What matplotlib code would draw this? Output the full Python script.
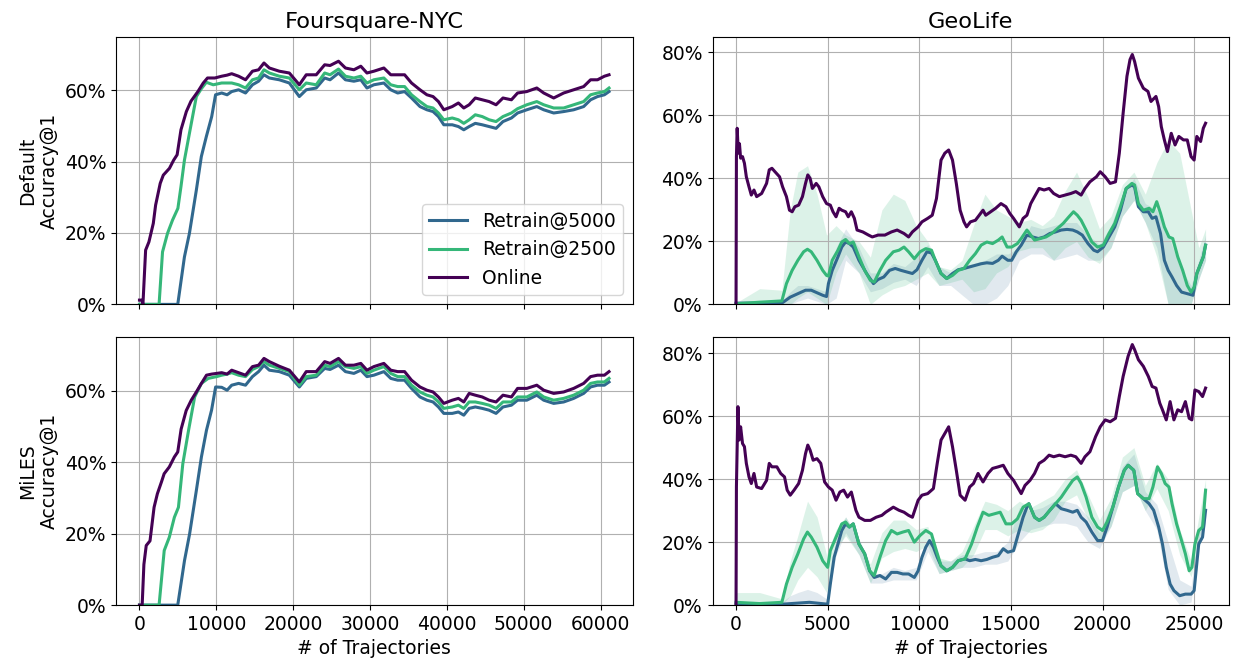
import numpy as np
import matplotlib
matplotlib.use("Agg")
import matplotlib.pyplot as plt
from matplotlib.ticker import PercentFormatter

plt.rcParams['font.size'] = 13.5

# colours picked from viridis
c_online = '#440154'
c_r5000 = '#31688e'
c_r2500 = '#35b779'

# ---------------- Foursquare-NYC ----------------
# shared x grid for the plateau part (after the warm-up rise)
nyc_grid = [10700, 11400, 12000, 12900, 13800, 14700, 15500, 16200, 16900, 18200,
            19500, 20800, 21700, 23000, 24100, 24800, 25900, 26800, 27900, 28800,
            29600, 30500, 31800, 32700, 33600, 34500, 35400, 36500, 37400, 38200,
            38900, 39600, 40700, 41500, 42200, 42900, 43700, 44600, 45500, 46400,
            47300, 48400, 49200, 50400, 51700, 52600, 53900, 55200, 56500, 57800,
            58700, 59600, 60500, 61100]

# Default
nyc_def_online_rise = [(0, 1.2), (300, 1.2), (450, 0), (800, 15.2), (1230, 17.5), (1800, 22.7),
                       (2100, 27.8), (2700, 33.9), (3100, 36.2), (3900, 38.1), (4450, 40.4),
                       (4900, 41.9), (5400, 48.9), (6100, 54.0), (6700, 56.9), (7600, 59.6),
                       (8300, 62.0), (8850, 63.4), (9800, 63.4)]
nyc_def_online = [63.9, 64.2, 64.6, 63.9, 62.9, 65.3, 65.7, 67.6, 66.2, 65.3,
                  64.8, 61.5, 64.3, 64.3, 67.1, 66.9, 68.1, 66.2, 65.7, 66.7,
                  64.8, 65.3, 66.2, 64.3, 64.3, 64.3, 62.0, 60.1, 58.7, 58.2,
                  56.8, 54.5, 55.4, 56.4, 55.0, 55.9, 57.8, 57.3, 56.8, 55.9,
                  57.8, 57.3, 59.2, 59.6, 60.6, 59.2, 57.8, 59.2, 60.1, 61.0,
                  62.9, 62.9, 63.9, 64.3]
nyc_def_r2500_rise = [(0, 0), (2550, 0), (3000, 14.7), (3650, 19.9), (4300, 23.6), (5000, 26.9),
                      (5400, 33.0), (5850, 40.4), (6500, 47.9), (7400, 58.2), (8050, 60.4),
                      (8700, 62.2), (9600, 61.5)]
nyc_def_r2500 = [62.0, 62.0, 62.0, 61.5, 60.6, 62.9, 63.4, 65.7, 64.8, 63.9,
                 63.4, 60.1, 62.0, 61.5, 64.8, 64.3, 65.9, 63.9, 63.4, 63.9,
                 62.0, 62.9, 63.4, 61.5, 61.0, 61.0, 58.7, 56.8, 55.4, 55.0,
                 53.6, 51.7, 52.2, 51.7, 50.7, 51.7, 53.1, 52.6, 51.7, 51.2,
                 52.6, 53.6, 54.8, 55.9, 56.8, 55.9, 55.0, 55.0, 55.9, 56.8,
                 58.7, 59.2, 59.6, 60.6]
nyc_def_r5000_rise = [(0, 0), (4980, 0), (5850, 13.3), (6500, 19.9), (7400, 32.0), (8050, 41.4),
                      (8700, 47.0), (9400, 52.6), (9900, 58.7)]
nyc_def_r5000 = [59.2, 58.7, 59.6, 60.1, 59.2, 61.5, 62.5, 64.3, 63.4, 62.9,
                 62.0, 58.2, 60.1, 60.6, 63.4, 62.9, 64.8, 62.9, 62.5, 62.9,
                 60.6, 61.5, 62.0, 60.1, 59.2, 59.6, 57.8, 55.4, 54.5, 54.0,
                 52.6, 50.3, 50.3, 49.8, 48.9, 49.8, 50.7, 50.3, 49.8, 49.3,
                 51.2, 52.2, 53.6, 54.5, 55.4, 54.5, 53.6, 54.0, 54.5, 55.4,
                 57.3, 58.2, 58.7, 59.6]

# MiLES
nyc_miles_online_rise = [(0, 0), (350, 0), (575, 11.4), (880, 16.7), (1370, 18.0), (1900, 27.4),
                         (2330, 31.2), (2860, 34.5), (3210, 36.8), (3880, 38.7), (4540, 41.5),
                         (4980, 42.9), (5420, 49.3), (6080, 54.5), (6740, 57.4), (7400, 59.7),
                         (8060, 62.1), (8720, 64.4), (9380, 64.7), (10040, 64.9)]
nyc_miles_online = [65.1, 64.7, 65.8, 65.1, 64.4, 66.8, 67.2, 69.1, 68.2, 66.9,
                    65.8, 62.5, 65.4, 65.4, 68.2, 67.7, 69.1, 67.2, 67.2, 67.7,
                    65.8, 66.8, 67.7, 65.8, 65.4, 65.4, 63.0, 61.1, 60.2, 59.7,
                    58.3, 56.5, 57.4, 57.9, 56.9, 59.3, 58.8, 58.3, 57.4, 56.9,
                    58.8, 58.3, 60.7, 60.7, 61.6, 60.2, 59.3, 59.7, 60.7, 62.1,
                    64.0, 64.4, 64.4, 65.4]
nyc_miles_r2500_rise = [(0, 0), (2550, 0), (3220, 15.3), (3880, 19.0), (4540, 24.6), (5070, 27.4),
                        (5640, 39.6), (6390, 49.0), (7180, 58.3), (8060, 62.1), (8940, 63.5),
                        (10040, 64.0)]
nyc_miles_r2500 = [64.4, 64.7, 65.1, 64.4, 64.0, 66.0, 66.8, 68.2, 67.2, 66.3,
                   65.4, 61.6, 64.0, 64.4, 67.2, 66.8, 68.2, 66.8, 66.3, 66.8,
                   64.9, 65.8, 66.8, 64.9, 64.0, 64.0, 61.6, 59.7, 58.8, 58.3,
                   56.9, 55.1, 55.5, 56.0, 55.1, 56.9, 56.9, 56.5, 56.0, 55.1,
                   56.9, 56.9, 58.3, 58.3, 59.7, 58.3, 57.4, 57.9, 58.8, 60.2,
                   62.1, 62.5, 62.5, 63.5]
nyc_miles_r5000_rise = [(0, 0), (4980, 0), (5860, 12.5), (6520, 19.9), (7400, 32.1), (8060, 41.5),
                        (8720, 49.0), (9380, 54.6), (9910, 61.1)]
nyc_miles_r5000 = [61.0, 60.2, 61.6, 62.1, 61.6, 64.0, 65.4, 67.2, 65.8, 65.4,
                   64.4, 61.1, 63.5, 64.0, 66.3, 66.0, 67.2, 65.4, 64.9, 65.8,
                   64.0, 64.4, 65.4, 63.5, 63.0, 63.0, 60.7, 58.3, 57.4, 56.9,
                   55.5, 53.7, 53.7, 54.1, 53.2, 55.1, 55.5, 55.1, 54.6, 53.7,
                   55.5, 56.0, 57.4, 57.4, 58.8, 57.4, 56.5, 56.9, 57.9, 59.3,
                   61.1, 61.6, 61.6, 62.5]

# ---------------- GeoLife ----------------
geo_def_online = [(0, 0), (21, 46.9), (62, 55.9), (125, 48.0), (187, 51.0), (250, 46.4), (354, 46.9),
                  (458, 44.8), (562, 40.5), (708, 37.3), (833, 34.7), (979, 36.3), (1125, 34.2),
                  (1396, 35.2), (1666, 38.4), (1812, 42.7), (1958, 43.2), (2125, 42.1), (2375, 40.5),
                  (2541, 37.3), (2750, 34.2), (2916, 29.9), (3062, 29.4), (3208, 31.0), (3416, 31.5),
                  (3624, 34.2), (3791, 38.4), (3916, 41.1), (4041, 40.0), (4166, 36.8), (4374, 38.4),
                  (4520, 37.3), (4728, 34.2), (4937, 32.0), (5145, 31.5), (5291, 29.4), (5457, 27.8),
                  (5624, 30.5), (5770, 29.9), (5978, 29.4), (6124, 27.8), (6291, 29.4), (6457, 27.3),
                  (6603, 23.6), (6916, 23.0), (7228, 22.0), (7436, 21.4), (7749, 22.0), (8124, 22.0),
                  (8478, 23.0), (8791, 23.6), (9165, 22.5), (9415, 21.4), (9623, 23.0), (9936, 24.6),
                  (10144, 26.2), (10457, 27.3), (10707, 28.3), (10936, 33.6), (11186, 45.8),
                  (11394, 48.0), (11602, 49.0), (11811, 45.8), (12019, 38.4), (12227, 29.9),
                  (12436, 26.2), (12581, 24.6), (12790, 26.2), (13060, 26.7), (13269, 28.3),
                  (13477, 29.9), (13623, 28.3), (13894, 29.4), (14164, 30.5), (14456, 32.0),
                  (14727, 31.0), (14935, 28.9), (15143, 27.3), (15456, 24.6), (15664, 27.3),
                  (15872, 28.3), (16081, 32.0), (16289, 34.2), (16539, 36.8), (16810, 36.3),
                  (17081, 36.8), (17331, 35.2), (17643, 34.2), (17955, 34.7), (18268, 35.2),
                  (18539, 35.8), (18830, 34.7), (19039, 36.8), (19310, 38.9), (19664, 40.5),
                  (19872, 42.1), (20143, 40.5), (20413, 38.4), (20705, 38.9), (20913, 48.0),
                  (21122, 60.7), (21330, 72.4), (21497, 77.7), (21622, 79.3), (21747, 77.1),
                  (21955, 71.8), (22226, 68.6), (22476, 67.6), (22642, 64.4), (22913, 66.0),
                  (23059, 62.8), (23205, 56.4), (23372, 52.2), (23539, 48.5), (23747, 54.3),
                  (23955, 50.6), (24163, 53.3), (24413, 52.2), (24622, 52.2), (24830, 46.9),
                  (24996, 45.8), (25142, 53.3), (25350, 51.7), (25496, 55.9), (25621, 57.5)]
geo_def_r2500 = [(0, 0.2), (1291, 0.7), (2500, 1.1), (2750, 6.6), (3062, 10.8), (3375, 14.0),
                 (3687, 16.7), (3895, 17.5), (4104, 16.7), (4416, 14.0), (4728, 10.8), (4937, 9.2),
                 (5041, 9.0), (5249, 14.0), (5562, 17.2), (5770, 19.8), (5978, 20.6), (6187, 19.3),
                 (6395, 19.8), (6707, 15.1), (7020, 10.8), (7332, 7.6), (7541, 7.1), (7853, 10.8),
                 (8166, 14.0), (8582, 16.7), (8895, 17.2), (9165, 18.2), (9415, 16.7), (9728, 14.5),
                 (10040, 16.7), (10353, 17.7), (10665, 17.2), (10873, 14.0), (11186, 9.8),
                 (11498, 8.2), (11811, 9.2), (12123, 10.8), (12436, 11.4), (12748, 14.0),
                 (13060, 16.1), (13373, 18.8), (13685, 19.8), (13998, 19.3), (14310, 20.4),
                 (14519, 21.4), (14790, 18.2), (15040, 18.2), (15352, 19.3), (15560, 20.9),
                 (15872, 23.6), (16081, 22.0), (16289, 20.4), (16602, 20.9), (16914, 21.4),
                 (17227, 22.5), (17539, 24.1), (17851, 25.7), (18164, 27.8), (18414, 29.4),
                 (18622, 28.3), (18830, 26.7), (19101, 23.6), (19414, 19.8), (19726, 18.2),
                 (20039, 18.8), (20351, 22.5), (20664, 25.7), (20976, 31.0), (21289, 36.8),
                 (21601, 38.4), (21747, 37.9), (21955, 32.0), (22226, 29.9), (22539, 30.5),
                 (22747, 29.4), (22955, 32.6), (23163, 28.9), (23372, 24.6), (23622, 21.4),
                 (23830, 20.9), (24101, 15.1), (24372, 10.8), (24622, 6.0), (24830, 3.9),
                 (24996, 5.5), (25142, 9.8), (25350, 12.9), (25496, 15.1), (25621, 18.8)]
geo_def_r5000 = [(0, 0.4), (2500, 0.4), (2958, 2.3), (3375, 3.4), (3791, 4.5), (4104, 4.5),
                 (4416, 3.7), (4728, 2.9), (4937, 2.5), (5041, 6.6), (5249, 10.8), (5562, 15.1),
                 (5770, 18.2), (5978, 19.8), (6187, 19.3), (6395, 18.2), (6707, 14.0), (7124, 9.8),
                 (7499, 6.6), (7749, 7.9), (8061, 8.7), (8374, 10.8), (8686, 11.4), (8999, 10.8),
                 (9311, 10.3), (9623, 9.8), (9874, 11.0), (10144, 14.0), (10415, 16.7),
                 (10665, 16.3), (10873, 14.0), (11186, 9.8), (11498, 8.2), (11811, 9.8),
                 (12123, 11.0), (12436, 11.4), (12748, 11.9), (13060, 12.4), (13373, 12.9),
                 (13685, 13.2), (13998, 13.0), (14310, 14.0), (14519, 15.3), (14831, 14.0),
                 (15040, 14.0), (15290, 16.7), (15560, 18.8), (15872, 22.0), (16185, 21.4),
                 (16497, 20.9), (16810, 21.4), (17122, 22.5), (17435, 23.0), (17747, 23.6),
                 (18060, 23.8), (18372, 23.6), (18622, 23.0), (18893, 22.0), (19205, 19.3),
                 (19518, 17.2), (19726, 16.7), (20039, 18.2), (20351, 21.4), (20664, 24.6),
                 (20976, 29.9), (21289, 36.8), (21601, 37.9), (21747, 37.3), (21955, 31.0),
                 (22226, 29.4), (22497, 29.4), (22705, 27.3), (22913, 27.8), (23163, 22.5),
                 (23372, 14.0), (23580, 10.8), (23789, 8.7), (24039, 6.0), (24310, 3.9),
                 (24622, 3.4), (24934, 2.9), (25142, 9.8), (25350, 12.9), (25496, 15.1),
                 (25621, 18.8)]

geo_miles_online = [(0, 0), (21, 37.5), (62, 50.3), (104, 63.0), (167, 52.4), (250, 56.6), (354, 51.3),
                    (458, 50.3), (562, 45.0), (708, 40.7), (833, 38.6), (979, 41.8), (1125, 37.5),
                    (1396, 37.0), (1666, 39.6), (1812, 45.0), (1958, 43.9), (2229, 43.9), (2437, 41.8),
                    (2645, 40.7), (2791, 36.5), (2958, 34.9), (3166, 36.5), (3416, 38.6), (3624, 42.8),
                    (3791, 48.1), (3916, 50.8), (4041, 49.2), (4208, 46.0), (4416, 46.5), (4624, 45.0),
                    (4833, 39.1), (5041, 37.5), (5249, 36.5), (5457, 33.3), (5666, 35.9), (5874, 36.5),
                    (6082, 34.3), (6291, 35.9), (6541, 30.1), (6707, 27.9), (7020, 26.9), (7332, 26.9),
                    (7645, 27.9), (7957, 28.5), (8166, 29.5), (8582, 31.1), (8895, 30.1), (9165, 29.5),
                    (9415, 28.5), (9623, 27.9), (9936, 33.3), (10144, 34.9), (10457, 35.4),
                    (10769, 37.0), (10978, 45.0), (11186, 52.4), (11394, 54.5), (11602, 56.6),
                    (11811, 50.3), (12019, 42.8), (12227, 34.9), (12498, 33.3), (12748, 37.5),
                    (12956, 38.6), (13206, 41.8), (13477, 39.1), (13748, 41.8), (13998, 43.4),
                    (14310, 43.9), (14581, 44.4), (14831, 41.8), (15143, 39.6), (15352, 37.5),
                    (15560, 35.4), (15768, 38.0), (16039, 39.6), (16289, 41.8), (16539, 45.0),
                    (16810, 46.0), (17081, 47.6), (17331, 47.1), (17643, 47.6), (17955, 47.1),
                    (18268, 47.6), (18539, 47.1), (18830, 45.0), (19039, 47.1), (19310, 48.7),
                    (19622, 53.5), (19872, 56.6), (20143, 58.8), (20413, 58.2), (20705, 59.3),
                    (20913, 66.2), (21122, 72.6), (21393, 79.0), (21622, 82.7), (21747, 81.1),
                    (21955, 77.9), (22226, 75.8), (22497, 72.6), (22705, 69.4), (22913, 68.9),
                    (23122, 64.1), (23268, 62.0), (23476, 58.8), (23685, 64.6), (23893, 58.8),
                    (24101, 62.0), (24310, 61.4), (24518, 64.6), (24726, 59.3), (24872, 58.8),
                    (25038, 68.3), (25246, 67.8), (25455, 66.2), (25621, 68.9)]
geo_miles_r2500 = [(0, 0.9), (1291, 0.5), (2500, 0.9), (2750, 6.7), (3062, 12.0), (3375, 16.3),
                   (3687, 21.0), (3895, 23.2), (4104, 21.6), (4416, 18.4), (4728, 14.1), (5000, 12.0),
                   (5145, 17.3), (5457, 21.6), (5770, 25.8), (5978, 26.4), (6187, 24.8), (6395, 25.8),
                   (6707, 19.4), (7020, 16.3), (7290, 10.9), (7541, 9.4), (7853, 15.2), (8166, 20.5),
                   (8478, 23.7), (8791, 22.6), (9103, 23.2), (9415, 23.7), (9728, 20.0), (10040, 22.1),
                   (10353, 23.7), (10665, 22.6), (10873, 18.4), (11186, 12.5), (11498, 10.9),
                   (11811, 12.0), (12123, 14.1), (12498, 14.7), (12852, 19.4), (13165, 24.8),
                   (13477, 29.5), (13790, 28.5), (14102, 29.0), (14414, 29.5), (14727, 25.8),
                   (15040, 25.8), (15352, 27.4), (15664, 31.1), (15977, 32.2), (16289, 27.9),
                   (16539, 26.9), (16810, 27.9), (17122, 30.1), (17435, 32.2), (17747, 34.3),
                   (18060, 37.0), (18372, 39.6), (18622, 40.7), (18830, 38.6), (19101, 34.3),
                   (19414, 27.9), (19726, 24.8), (19997, 23.7), (20247, 26.4), (20560, 31.1),
                   (20872, 37.5), (21185, 42.8), (21393, 44.4), (21705, 42.8), (21913, 35.4),
                   (22226, 33.8), (22539, 33.8), (22747, 37.5), (22997, 43.9), (23205, 41.8),
                   (23414, 38.6), (23622, 37.5), (23789, 32.2), (24039, 25.8), (24310, 20.5),
                   (24518, 16.3), (24726, 10.9), (24872, 12.0), (25038, 19.4), (25246, 23.7),
                   (25455, 24.8), (25621, 36.5)]
geo_miles_r5000 = [(0, 0.3), (2500, 0.3), (3999, 0.9), (5000, 0.3), (5145, 6.7), (5353, 15.2),
                   (5562, 19.4), (5770, 23.7), (5978, 25.8), (6187, 24.8), (6395, 25.8), (6707, 19.4),
                   (7020, 16.3), (7290, 10.9), (7541, 8.8), (7853, 9.4), (8166, 8.3), (8478, 10.4),
                   (8791, 10.4), (9103, 9.9), (9415, 9.9), (9728, 8.8), (9936, 10.9), (10144, 15.2),
                   (10353, 18.4), (10561, 20.5), (10769, 18.4), (10978, 15.2), (11186, 12.5),
                   (11498, 10.9), (11811, 12.0), (12123, 14.1), (12498, 14.7), (12748, 14.1),
                   (13060, 14.5), (13373, 14.1), (13685, 14.5), (13998, 15.2), (14310, 15.7),
                   (14581, 17.9), (14831, 16.8), (15143, 17.3), (15352, 21.6), (15664, 27.9),
                   (15872, 31.1), (15977, 32.2), (16289, 27.9), (16539, 26.9), (16810, 27.9),
                   (17122, 30.1), (17435, 32.2), (17747, 30.6), (18060, 30.1), (18372, 29.5),
                   (18622, 30.1), (18830, 27.9), (19101, 26.4), (19414, 23.2), (19726, 20.5),
                   (19997, 20.5), (20247, 24.8), (20560, 31.1), (20872, 37.5), (21185, 42.8),
                   (21393, 44.4), (21705, 42.8), (21913, 35.4), (22226, 33.8), (22539, 32.2),
                   (22789, 30.1), (23060, 24.8), (23268, 19.4), (23476, 12.0), (23685, 6.7),
                   (23893, 4.6), (24206, 3.0), (24518, 3.5), (24830, 3.5), (24996, 4.6),
                   (25246, 19.4), (25455, 21.6), (25621, 30.1)]

# spread bands for the retrain runs (GeoLife)
geo_band_x = [0, 1290, 2500, 2960, 3370, 3900, 4420, 4940, 5460, 5980,
              6710, 7330, 7960, 8580, 9210, 9830, 10460, 11080, 11710, 12330,
              12960, 13580, 14210, 14830, 15460, 16080, 16710, 17330, 17960, 18580,
              19210, 19830, 20460, 21080, 21710, 22330, 22960, 23580, 24210, 24830,
              25250, 25620]
geo_def_r2500_lo = [0, 0, 0, 0, 2, 4, 2, 0, 10, 16, 10, 0, 3, 5, 6, 8, 10, 6, 7, 8,
                    4, 5, 10, 12, 17, 18, 18, 14, 18, 20, 15, 13, 18, 28, 33, 26, 15, 0, 0, 0, 8, 14]
geo_def_r2500_hi = [0.5, 5, 4.5, 30, 42, 44, 35, 22, 25, 22, 20, 15, 30, 35, 33, 25, 20, 12, 11, 14,
                    25, 35, 30, 28, 26, 27, 25, 28, 36, 42, 34, 24, 28, 38, 42, 35, 45, 52, 48, 30, 18, 24]
geo_def_r5000_lo = [0, 0, 0, 0, 1, 2, 1, 0, 2, 14, 10, 4, 5, 7, 8, 6, 12, 6, 6, 3,
                    0, 0, 2, 6, 14, 16, 16, 14, 15, 16, 14, 14, 18, 28, 33, 26, 18, 0, 0, 0, 8, 14]
geo_def_r5000_hi = [0.5, 1, 1, 4, 6, 6, 5, 4, 18, 24, 18, 10, 10, 13, 12, 15, 19, 12, 10, 12,
                    13, 14, 16, 16, 18, 25, 24, 25, 26, 26, 22, 19, 25, 35, 40, 32, 30, 22, 12, 6, 14, 22]
geo_miles_r2500_lo = [0, 0, 0, 3, 8, 12, 9, 4, 18, 22, 16, 7, 15, 17, 18, 17, 19, 10, 11, 12,
                      16, 24, 24, 22, 24, 23, 24, 27, 33, 35, 27, 20, 25, 36, 38, 30, 37, 30, 16, 9, 20, 30]
geo_miles_r2500_hi = [4, 4, 2, 14, 22, 33, 28, 16, 24, 28, 21, 13, 23, 27, 27, 24, 25, 15, 14, 17,
                      25, 33, 32, 30, 33, 31, 33, 35, 40, 43, 35, 27, 34, 47, 50, 38, 45, 40, 24, 14, 28, 40]
geo_miles_r5000_lo = [0, 0, 0, 0, 0, 0, 0, 0, 16, 23, 16, 7, 7, 8, 8, 8, 17, 10, 11, 12,
                      12, 13, 13, 14, 20, 24, 25, 26, 26, 25, 20, 18, 25, 36, 38, 30, 24, 5, 0, 1, 18, 26]
geo_miles_r5000_hi = [1, 1, 1, 3, 4, 5, 4, 2, 21, 28, 21, 10, 10, 12, 11, 12, 21, 14, 14, 16,
                      16, 17, 17, 20, 31, 30, 31, 33, 33, 32, 28, 23, 32, 44, 48, 36, 32, 20, 8, 6, 24, 32]


def nyc_series(rise, plateau):
    xs = [p[0] for p in rise] + nyc_grid
    ys = [p[1] for p in rise] + plateau
    return np.array(xs), np.array(ys)


def unzip(pairs):
    return np.array([p[0] for p in pairs]), np.array([p[1] for p in pairs])


fig, axes = plt.subplots(2, 2, figsize=(12.34, 6.65), dpi=100, sharex='col')
plt.subplots_adjust(left=0.094, right=0.996, top=0.945, bottom=0.09, wspace=0.155, hspace=0.123)

lw = 2.2

# left column
nyc_sets = [
    (nyc_def_r5000_rise, nyc_def_r5000, nyc_def_r2500_rise, nyc_def_r2500, nyc_def_online_rise, nyc_def_online),
    (nyc_miles_r5000_rise, nyc_miles_r5000, nyc_miles_r2500_rise, nyc_miles_r2500, nyc_miles_online_rise, nyc_miles_online),
]
for row, s in enumerate(nyc_sets):
    ax = axes[row, 0]
    x, y = nyc_series(s[0], s[1])
    ax.plot(x, y, color=c_r5000, lw=lw, label='Retrain@5000')
    x, y = nyc_series(s[2], s[3])
    ax.plot(x, y, color=c_r2500, lw=lw, label='Retrain@2500')
    x, y = nyc_series(s[4], s[5])
    ax.plot(x, y, color=c_online, lw=lw, label='Online')
    ax.set_ylim(0, 75)
    ax.set_yticks([0, 20, 40, 60])
    ax.set_xticks([0, 10000, 20000, 30000, 40000, 50000, 60000])

# right column
geo_sets = [
    (geo_def_r5000, geo_def_r5000_lo, geo_def_r5000_hi, geo_def_r2500, geo_def_r2500_lo, geo_def_r2500_hi, geo_def_online),
    (geo_miles_r5000, geo_miles_r5000_lo, geo_miles_r5000_hi, geo_miles_r2500, geo_miles_r2500_lo, geo_miles_r2500_hi, geo_miles_online),
]
for row, s in enumerate(geo_sets):
    ax = axes[row, 1]
    ax.fill_between(geo_band_x, s[1], s[2], color=c_r5000, alpha=0.14, lw=0)
    ax.fill_between(geo_band_x, s[4], s[5], color=c_r2500, alpha=0.17, lw=0)
    x, y = unzip(s[0])
    ax.plot(x, y, color=c_r5000, lw=lw)
    x, y = unzip(s[3])
    ax.plot(x, y, color=c_r2500, lw=lw)
    x, y = unzip(s[6])
    ax.plot(x, y, color=c_online, lw=lw)
    ax.set_ylim(0, 85)
    ax.set_yticks([0, 20, 40, 60, 80])
    ax.set_xticks([0, 5000, 10000, 15000, 20000, 25000])

for ax in axes.flat:
    ax.grid(True)
    ax.yaxis.set_major_formatter(PercentFormatter(100, decimals=0))

axes[0, 0].set_title("Foursquare-NYC")
axes[0, 1].set_title("GeoLife")
axes[0, 0].set_ylabel("Default\nAccuracy@1")
axes[1, 0].set_ylabel("MiLES\nAccuracy@1")
axes[1, 0].set_xlabel("# of Trajectories")
axes[1, 1].set_xlabel("# of Trajectories")
axes[0, 0].legend(loc='lower right')

plt.savefig("out.png", dpi=100)
